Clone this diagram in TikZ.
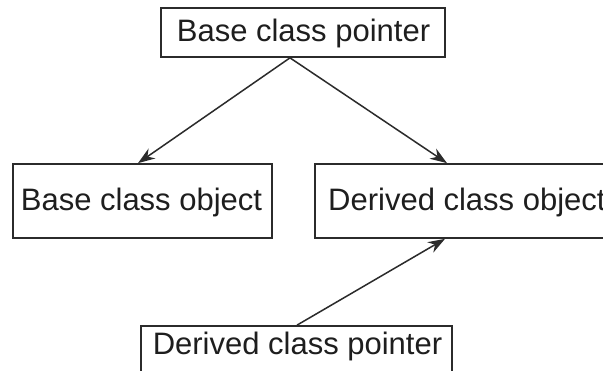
\documentclass[tikz,border=0pt]{standalone}
\usepackage{fontspec}
\setmainfont{Liberation Sans}
\usetikzlibrary{arrows.meta}
\definecolor{ink}{HTML}{2B2B2B}
\definecolor{textink}{HTML}{1E1E1E}
\tikzset{
  box/.style={draw=ink, line width=1.7pt, rectangle, inner sep=0pt},
  lbl/.style={text=textink, inner sep=0pt, font=\fontsize{31}{36}\selectfont},
  arr/.style={draw=ink, line width=1.5pt, -{Stealth[length=17pt,width=12pt]}}
}
\begin{document}
\begin{tikzpicture}[x=1pt,y=-1pt]
  \useasboundingbox (0,0) rectangle (603,371);
  \clip (0,0) rectangle (603,371);
  \fill[white] (0,0) rectangle (603,371);

  % boxes
  \node[box, minimum width=284pt, minimum height=49pt] (bp) at (303,32.5) {};
  \node[box, minimum width=259pt, minimum height=74pt] (bo) at (142.5,201) {};
  \node[box, minimum width=305pt, minimum height=74pt] (do) at (467.5,201) {};
  \node[box, minimum width=311pt, minimum height=74pt] (dp) at (296.5,363) {};

  % labels
  \node[lbl, anchor=base] (bpt) at (303.5,42) {Base class pointer};
  \node[lbl, anchor=base] (bot) at (141.5,211) {Base class object};
  \node[lbl, anchor=base west] (dot) at (328,211) {Derived class object};
  \node[lbl, anchor=base] (dpt) at (297.5,355) {Derived class pointer};

  % connectors
  \coordinate (apex) at ([xshift=-13pt]bp.south);
  \draw[arr] (apex) -- ([xshift=-4.5pt]bo.north);
  \draw[arr] (apex) -- ([xshift=-20.5pt]do.north);
  \draw[arr] ([xshift=0.5pt]dp.north) -- ([xshift=-22.5pt]do.south);
\end{tikzpicture}
\end{document}
